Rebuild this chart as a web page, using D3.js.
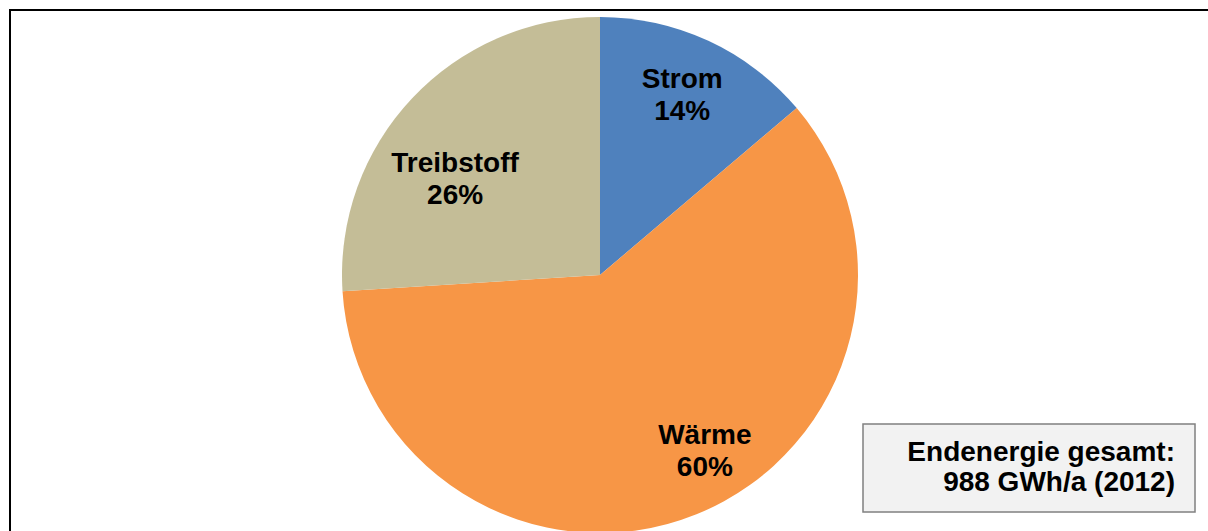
<!DOCTYPE html>
<html>
<head>
<meta charset="utf-8">
<script src="https://cdn.jsdelivr.net/npm/d3@7"></script>
<style>
  body { margin: 0; background: #fff; }
  svg { display: block; font-family: "Liberation Sans", Arial, sans-serif; }
</style>
</head>
<body>
<svg class="chart"></svg>
<script>
// data
var categories = ["Strom", "Wärme", "Treibstoff"];
var shares = [13.8, 60.2, 26.0];
var shareLabels = ["14%", "60%", "26%"];
var colors = ["#4f81bd", "#f79646", "#c4bd97"];
var noteLines = ["Endenergie gesamt:", "988 GWh/a (2012)"];

var width = 1208,
  height = 531,
  cx = 600,
  cy = 275,
  radius = 258;

var svg = d3.select(".chart")
  .attr("width", width)
  .attr("height", height);

// outer frame (right/bottom edges fall outside the picture)
svg.append("rect")
  .attr("x", 10).attr("y", 10)
  .attr("width", 1220).attr("height", 540)
  .attr("fill", "none")
  .attr("stroke", "#000")
  .attr("stroke-width", 2);

var data = categories.map(function(c, i) {
  return { name: c, value: shares[i], label: shareLabels[i], color: colors[i] };
});

var pie = d3.pie()
  .sort(null)
  .value(function(d) { return d.value; });

var arcGen = d3.arc()
  .innerRadius(0)
  .outerRadius(radius);

var g = svg.append("g")
  .attr("transform", "translate(" + cx + "," + cy + ")");

var arcs = pie(data);

g.selectAll("path")
  .data(arcs)
  .enter()
  .append("path")
  .attr("d", arcGen)
  .attr("fill", function(d) { return d.data.color; });

// label placement: fraction of radius + angle shift (deg) from slice middle
var labelRadius = [0.77, 0.79, 0.676];
var labelShift = [-0.4, -9, -9.4];

var labels = g.selectAll("text.lbl")
  .data(arcs)
  .enter()
  .append("text")
  .attr("class", "lbl")
  .attr("text-anchor", "middle")
  .attr("font-size", 28)
  .attr("font-weight", "bold")
  .attr("fill", "#000")
  .attr("transform", function(d, i) {
    var r = radius * labelRadius[i];
    var a = (d.startAngle + d.endAngle) / 2 + labelShift[i] * Math.PI / 180;
    return "translate(" + (Math.sin(a) * r) + "," + (-Math.cos(a) * r) + ")";
  });

labels.append("tspan")
  .attr("x", 0)
  .attr("dy", -6)
  .text(function(d) { return d.data.name; });

labels.append("tspan")
  .attr("x", 0)
  .attr("dy", 32)
  .text(function(d) { return d.data.label; });

// note box
var note = svg.append("g");
note.append("rect")
  .attr("x", 863).attr("y", 424)
  .attr("width", 332).attr("height", 88)
  .attr("fill", "#f2f2f2")
  .attr("stroke", "#808080")
  .attr("stroke-width", 1.5);

note.selectAll("text")
  .data(noteLines)
  .enter()
  .append("text")
  .attr("x", 1175)
  .attr("y", function(d, i) { return 461 + i * 30; })
  .attr("text-anchor", "end")
  .attr("font-size", 28)
  .attr("font-weight", "bold")
  .text(function(d) { return d; });
</script>
</body>
</html>
